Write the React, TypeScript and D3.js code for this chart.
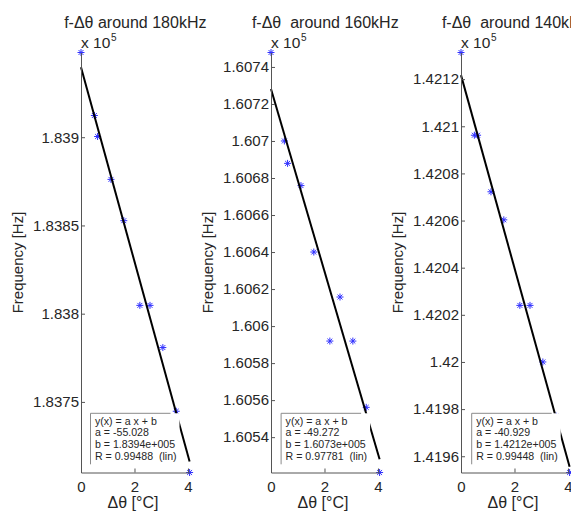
import React, { useEffect, useRef } from "react";
import * as d3 from "d3";

// temperature offset [°C], shared by the three sweeps
const deltaTheta = [0, 0.5, 0.62, 1.12, 1.6, 2.2, 2.58, 3.06, 3.56, 4.06];

// measured resonance frequency [Hz]
const freq180 = [183948, 183912.3, 183900.4, 183876.1, 183852.7, 183804.7, 183804.7, 183780.8, 183744.7, 183710];
const freq160 = [160747.8, 160700, 160687.9, 160675.9, 160640, 160591.9, 160615.7, 160591.9, 160556.1, 160520.9];
const freq140 = [142131.3, 142096.2, 142096.2, 142072.2, 142060.3, 142024, 142024, 142000, 141977, 141953.1];

const titles = ["f-\u0394\u03b8 around 180kHz", "f-\u0394\u03b8  around 160kHz", "f-\u0394\u03b8  around 140kHz"];

// linear fit y = a x + b
const fitA = [-55.028, -49.272, -40.929];
const fitB = [183939.6, 160728.1, 142121.7];
const fitALabel = ["-55.028", "-49.272", "-40.929"];
const fitBLabel = ["1.8394e+005", "1.6073e+005", "1.4212e+005"];
const fitR = ["0.99488", "0.97781", "0.99448"];

const yTicks180 = [183750, 183800, 183850, 183900];
const yTicks160 = [160540, 160560, 160580, 160600, 160620, 160640, 160660, 160680, 160700, 160720, 160740];
const yTicks140 = [141960, 141980, 142000, 142020, 142040, 142060, 142080, 142100, 142120];
const xTicks = [0, 2, 4];

const FONT = "'Liberation Sans', Arial, sans-serif";
const TEXT = "#262626";
const AXIS = "#555";

const App: React.FC = () => {
  const ref = useRef<SVGSVGElement>(null);

  useEffect(() => {
    if (!ref.current) return;
    const svg = d3.select(ref.current);
    svg.selectAll("*").remove();

    const series = [freq180, freq160, freq140];
    const ticks = [yTicks180, yTicks160, yTicks140];
    const top = 52.5;
    const bottom = 472.5;
    const plotWidth = 108.6;
    const fmt = (v: number) => String(+(v / 1e5).toFixed(5));

    series.forEach((freq, i) => {
      const left = 81 + i * 190;
      const g = svg.append("g");

      const x = d3
        .scaleLinear()
        .domain([0, d3.max(deltaTheta) as number])
        .range([left, left + plotWidth]);
      const y = d3
        .scaleLinear()
        .domain(d3.extent(freq) as [number, number])
        .range([bottom, top]);

      // Data points (asterisk markers)
      const r = 3.5;
      g.selectAll(".pt")
        .data(deltaTheta.map((d, j) => [d, freq[j]]))
        .enter()
        .append("path")
        .attr("class", "pt")
        .attr("transform", (d) => `translate(${x(d[0])},${y(d[1])})`)
        .attr(
          "d",
          `M${-r},0H${r}M0,${-r}V${r}M${-r * 0.7},${-r * 0.7}L${r * 0.7},${r * 0.7}M${-r * 0.7},${r * 0.7}L${r * 0.7},${-r * 0.7}`
        )
        .attr("stroke", "#3030ff")
        .attr("stroke-width", 1)
        .attr("fill", "none");

      // Fit line
      const xMax = d3.max(deltaTheta) as number;
      g.append("line")
        .attr("x1", x(0))
        .attr("y1", y(fitB[i]))
        .attr("x2", x(xMax))
        .attr("y2", y(fitA[i] * xMax + fitB[i]))
        .attr("stroke", "#000")
        .attr("stroke-width", 2);

      // Y axis
      const yAxis = g
        .append("g")
        .attr("transform", `translate(${left},0)`)
        .call(
          d3
            .axisLeft(y)
            .tickValues(ticks[i])
            .tickSize(-4)
            .tickSizeOuter(0)
            .tickPadding(2)
            .tickFormat((d) => fmt(d as number))
        );
      yAxis.attr("font-family", FONT).attr("font-size", 15);
      yAxis.selectAll("path, line").attr("stroke", AXIS);
      yAxis.selectAll("text").attr("fill", TEXT);

      // X axis
      const xAxis = g
        .append("g")
        .attr("transform", `translate(0,${bottom})`)
        .call(
          d3
            .axisBottom(x)
            .tickValues(xTicks)
            .tickSize(-4)
            .tickSizeOuter(0)
            .tickPadding(8.5)
            .tickFormat(d3.format("d"))
        );
      xAxis.attr("font-family", FONT).attr("font-size", 15);
      xAxis.selectAll("path, line").attr("stroke", AXIS);
      xAxis.selectAll("text").attr("fill", TEXT);

      // Fit annotation box
      const bx = left + 9.5 + i * 0.6;
      const by = 413.3;
      g.append("rect")
        .attr("x", bx)
        .attr("y", by)
        .attr("width", 89)
        .attr("height", 51)
        .attr("fill", "#fff");
      g.append("path")
        .attr("d", `M${bx + 80},${by}H${bx}V${by + 51}`)
        .attr("fill", "none")
        .attr("stroke", "#8a8a8a")
        .attr("stroke-width", 1);
      const lines = [
        "y(x) = a x + b",
        `a = ${fitALabel[i]}`,
        `b = ${fitBLabel[i]}`,
        `R = ${fitR[i]}  (lin)`,
      ];
      g.selectAll(".fit")
        .data(lines)
        .enter()
        .append("text")
        .attr("x", bx + 4.5)
        .attr("y", (d, j) => 424.8 + j * 11.6)
        .attr("font-family", FONT)
        .attr("font-size", 10.6)
        .attr("fill", TEXT)
        .style("white-space", "pre")
        .text((d) => d);

      // Title
      g.append("text")
        .attr("x", left + plotWidth / 2)
        .attr("y", 28)
        .attr("text-anchor", "middle")
        .attr("font-family", FONT)
        .attr("font-size", 16)
        .attr("fill", TEXT)
        .style("white-space", "pre")
        .text(titles[i]);

      // Exponent
      const ex = g.append("text").attr("font-family", FONT).attr("fill", TEXT);
      ex.append("tspan").attr("x", left).attr("y", 48).attr("font-size", 15.5).text("x 10");
      ex.append("tspan").attr("x", left + 30).attr("y", 41).attr("font-size", 10).text("5");

      // Axis labels
      g.append("text")
        .attr("transform", `translate(${left - 58.5},${(top + bottom) / 2}) rotate(-90)`)
        .attr("text-anchor", "middle")
        .attr("font-family", FONT)
        .attr("font-size", 15)
        .attr("fill", TEXT)
        .text("Frequency [Hz]");
      g.append("text")
        .attr("x", left + 52)
        .attr("y", 508)
        .attr("text-anchor", "middle")
        .attr("font-family", FONT)
        .attr("font-size", 16)
        .attr("fill", TEXT)
        .text("\u0394\u03b8 [\u00b0C]");
    });
  }, []);

  return (
    <svg
      ref={ref}
      width={571}
      height={511}
      style={{ position: "absolute", left: 0, top: 0, background: "#fff" }}
    />
  );
};

export default App;
